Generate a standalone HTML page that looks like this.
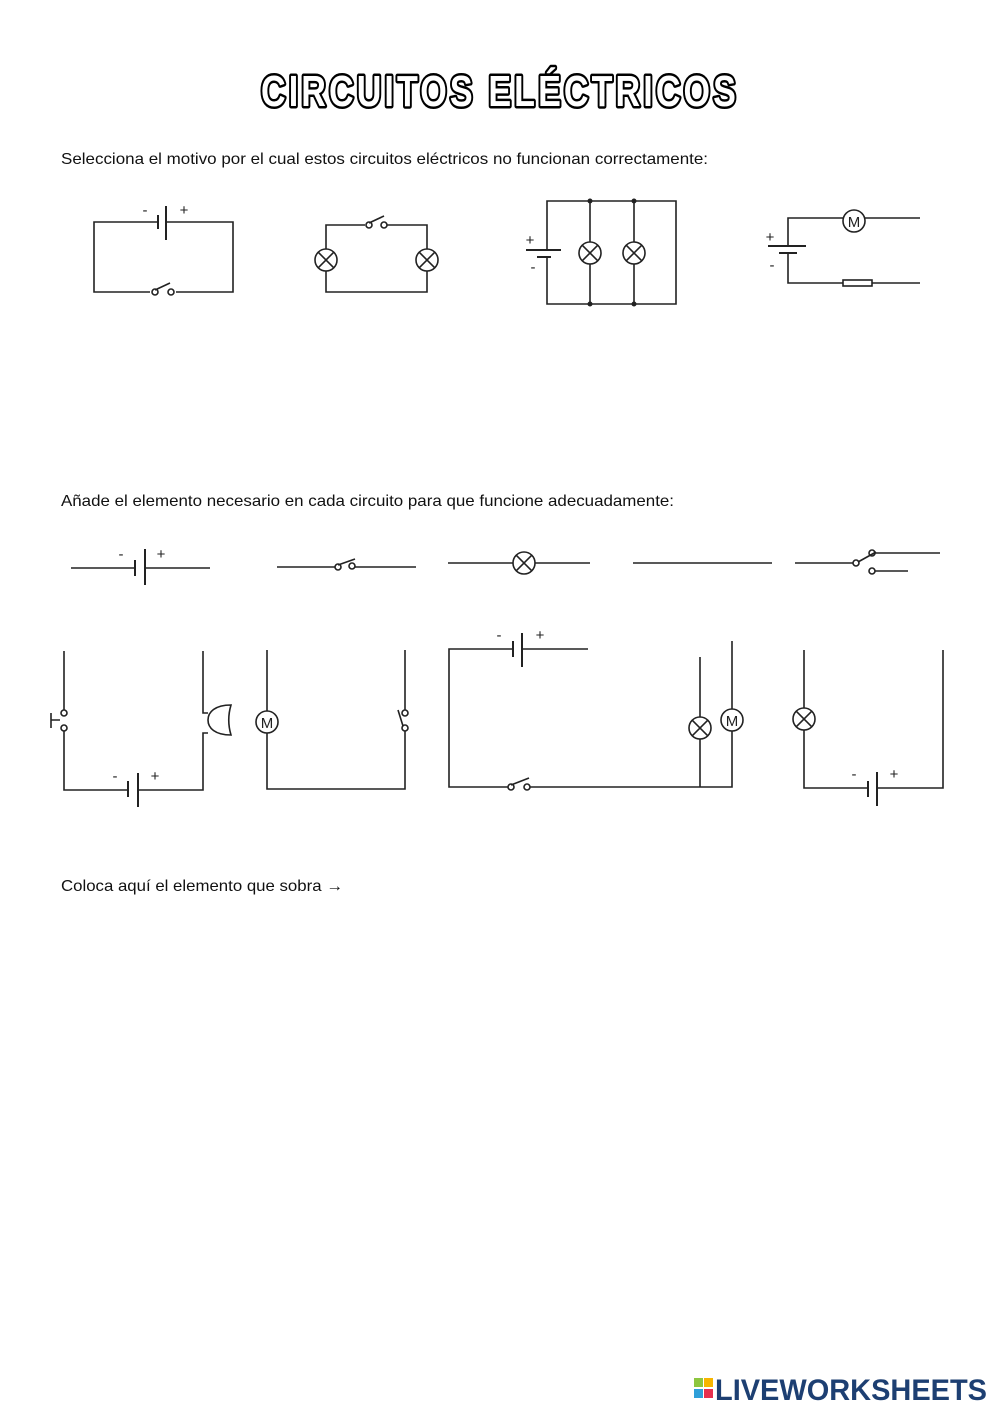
<!DOCTYPE html>
<html><head><meta charset="utf-8"><style>
html,body{margin:0;padding:0;background:#fff;}
svg{display:block;}
text{font-family:"Liberation Sans",sans-serif;}
</style></head><body>
<svg width="1000" height="1414" viewBox="0 0 1000 1414" xmlns="http://www.w3.org/2000/svg">
<rect width="1000" height="1414" fill="#fff"/>
<text x="261" y="106" font-size="44" font-weight="bold" fill="#fff" stroke="#000" stroke-width="5" stroke-linejoin="round" paint-order="stroke" letter-spacing="4" textLength="478" lengthAdjust="spacingAndGlyphs">CIRCUITOS ELÉCTRICOS</text>
<g font-size="16" fill="#111">
<text x="61" y="164" textLength="647" lengthAdjust="spacingAndGlyphs">Selecciona el motivo por el cual estos circuitos eléctricos no funcionan correctamente:</text>
<text x="61" y="506" textLength="613" lengthAdjust="spacingAndGlyphs">Añade el elemento necesario en cada circuito para que funcione adecuadamente:</text>
<text x="61" y="891" textLength="282" lengthAdjust="spacingAndGlyphs">Coloca aquí el elemento que sobra →</text>
</g>
<g stroke="#222" stroke-width="1.6" fill="none">
<path d="M158 222H94V292H150M176 292H233V222H166"/>
<path d="M158 215V229M166 206V240" stroke-width="2"/>
<circle cx="155" cy="292" r="3" fill="#fff"/><circle cx="171" cy="292" r="3" fill="#fff"/>
<path d="M155 290L170 283"/>
<path d="M365 225H326V249M326 271V292H427V271M427 249V225H387"/>
<circle cx="369" cy="225" r="3" fill="#fff"/><circle cx="384" cy="225" r="3" fill="#fff"/>
<path d="M369 223L384 216"/>
<path d="M547 250V201H676V304H547V257"/>
<path d="M526 250H561" stroke-width="2"/><path d="M537 257H551" stroke-width="2"/>
<path d="M590 201V242M590 264V304M634 201V242M634 264V304"/>
<path d="M788 246V218H843M865 218H920M788 253V283H843M872 283H920"/>
<path d="M768 246H806M779 253H797" stroke-width="2"/>
<rect x="843" y="280" width="29" height="6"/>
<path d="M71 568H135M145 568H210"/>
<path d="M135 560V576M145 549V585" stroke-width="2"/>
<path d="M277 567H335M355 567H416"/>
<circle cx="338" cy="567" r="3" fill="#fff"/><circle cx="352" cy="566" r="3" fill="#fff"/>
<path d="M338 565L355 559"/>
<path d="M448 563H513M535 563H590"/>
<path d="M633 563H772"/>
<path d="M795 563H853M875 553H940M875 571H908"/>
<circle cx="856" cy="563" r="3" fill="#fff"/><circle cx="872" cy="553" r="3" fill="#fff"/><circle cx="872" cy="571" r="3" fill="#fff"/>
<path d="M858 562L876 552"/>
<path d="M64 651V710M64 731V790H128M138 790H203V733H208M203 651V713H208"/>
<path d="M128 781V797M138 773V807" stroke-width="2"/>
<circle cx="64" cy="713" r="3" fill="#fff"/><circle cx="64" cy="728" r="3" fill="#fff"/>
<path d="M51 713V728M51 720H60"/>
<path d="M231 705C215 705 208 712 208 720C208 728 215 735 231 735C228 725 228 715 231 705Z"/>
<path d="M267 650V711M267 733V789H405V731M405 650V710"/>
<circle cx="405" cy="713" r="3" fill="#fff"/><circle cx="405" cy="728" r="3" fill="#fff"/>
<path d="M403 726L398 710"/>
<path d="M513 649H449V787H508M530 787H732V731M732 641V709M700 657V717M700 739V787M522 649H588"/>
<path d="M513 641V657M522 633V667" stroke-width="2"/>
<circle cx="511" cy="787" r="3" fill="#fff"/><circle cx="527" cy="787" r="3" fill="#fff"/>
<path d="M511 785L529 778"/>
<path d="M804 650V708M804 730V788H868M877 788H943V650"/>
<path d="M868 781V797M877 772V806" stroke-width="2"/>
</g>
<g stroke="#222" stroke-width="1.6" fill="#fff">
<g transform="translate(326,260)"><circle r="11"/><path d="M-7.8 -7.8L7.8 7.8M7.8 -7.8L-7.8 7.8"/></g>
<g transform="translate(427,260)"><circle r="11"/><path d="M-7.8 -7.8L7.8 7.8M7.8 -7.8L-7.8 7.8"/></g>
<g transform="translate(590,253)"><circle r="11"/><path d="M-7.8 -7.8L7.8 7.8M7.8 -7.8L-7.8 7.8"/></g>
<g transform="translate(634,253)"><circle r="11"/><path d="M-7.8 -7.8L7.8 7.8M7.8 -7.8L-7.8 7.8"/></g>
<g transform="translate(524,563)"><circle r="11"/><path d="M-7.8 -7.8L7.8 7.8M7.8 -7.8L-7.8 7.8"/></g>
<g transform="translate(700,728)"><circle r="11"/><path d="M-7.8 -7.8L7.8 7.8M7.8 -7.8L-7.8 7.8"/></g>
<g transform="translate(804,719)"><circle r="11"/><path d="M-7.8 -7.8L7.8 7.8M7.8 -7.8L-7.8 7.8"/></g>
<circle cx="854" cy="221" r="11"/><circle cx="267" cy="722" r="11"/><circle cx="732" cy="720" r="11"/>
</g>
<g fill="#222">
<circle cx="590" cy="201" r="2.5"/><circle cx="634" cy="201" r="2.5"/><circle cx="590" cy="304" r="2.5"/><circle cx="634" cy="304" r="2.5"/>
</g>
<g font-size="15" fill="#222" text-anchor="middle">
<text x="854" y="227">M</text><text x="267" y="728">M</text><text x="732" y="726">M</text>
</g>
<g font-size="15" fill="#222" text-anchor="middle">
<text x="145" y="215">-</text><text x="184" y="215">+</text>
<text x="530" y="245">+</text><text x="533" y="272">-</text>
<text x="770" y="242">+</text><text x="772" y="270">-</text>
<text x="121" y="559">-</text><text x="161" y="559">+</text>
<text x="115" y="781">-</text><text x="155" y="781">+</text>
<text x="499" y="640">-</text><text x="540" y="640">+</text>
<text x="854" y="779">-</text><text x="894" y="779">+</text>
</g>
<rect x="694" y="1378" width="9" height="9" fill="#8dc63f"/><rect x="704" y="1378" width="9" height="9" fill="#f7b500"/>
<rect x="694" y="1389" width="9" height="9" fill="#2e9fd9"/><rect x="704" y="1389" width="9" height="9" fill="#e5304f"/>
<text x="715" y="1400" font-size="30" font-weight="bold" fill="#1d3f72" textLength="272" lengthAdjust="spacingAndGlyphs">LIVEWORKSHEETS</text>
</svg>
</body></html>
